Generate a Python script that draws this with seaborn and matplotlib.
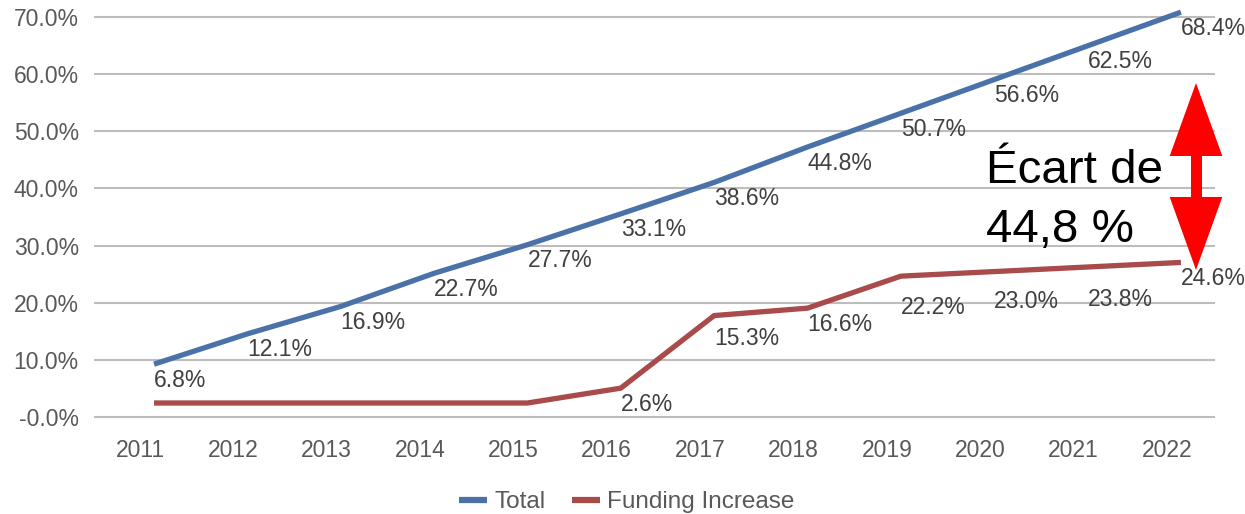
import numpy as np
import pandas as pd
import matplotlib
matplotlib.use("Agg")
import matplotlib.pyplot as plt
from matplotlib.patches import FancyArrowPatch
from matplotlib.lines import Line2D
import seaborn as sns

# ---- data ----
years = ["2011", "2012", "2013", "2014", "2015", "2016",
         "2017", "2018", "2019", "2020", "2021", "2022"]
total = [6.8, 12.1, 16.9, 22.7, 27.7, 33.1, 38.6, 44.8, 50.7, 56.6, 62.5, 68.4]
funding = [0.0, 0.0, 0.0, 0.0, 0.0, 2.6, 15.3, 16.6, 22.2, 23.0, 23.8, 24.6]
funding_labeled = [False, False, False, False, False, True,
                   True, True, True, True, True, True]
series_names = ["Total", "Funding Increase"]
ytick_values = [0, 10, 20, 30, 40, 50, 60, 70]
ytick_labels = ["-0.0%", "10.0%", "20.0%", "30.0%", "40.0%", "50.0%", "60.0%", "70.0%"]
gap_text = "Écart de\n44,8 %"

# ---- style / layout constants ----
W, H = 1245, 514
C_TOTAL = "#4A72A8"
C_FUND = "#A94A4B"
GRID = "#BDBDBD"
TICK_C = "#595959"
LAB_C = "#404040"
Y_SHIFT = 2.45   # gridlines drawn offset from data, as in the reference
X_SHIFT = 0.15
total_lab_dy = [16] * 12
fund_lab_dy = [0, 0, 0, 0, 0, 16, 23, 16, 31, 30, 32, 16]
FS = 16.5

sns.set_theme(style="white")
plt.rcParams["font.family"] = ["Liberation Sans", "DejaVu Sans"]

fig = plt.figure(figsize=(W / 100, H / 100), dpi=100)
ax = fig.add_axes([94 / W, 1 - 425 / H, (1215 - 94) / W, 422 / H])

pos = np.arange(len(years))
df = pd.DataFrame({
    "pos": np.concatenate([pos, pos]),
    "value": total + funding,
    "series": [series_names[0]] * len(years) + [series_names[1]] * len(years),
})
sns.lineplot(data=df, x="pos", y="value", hue="series",
             palette={series_names[0]: C_TOTAL, series_names[1]: C_FUND},
             linewidth=3.8, ax=ax, zorder=3)
for ln in ax.lines:
    ln.set_solid_capstyle("butt")
    ln.set_solid_joinstyle("round")

handles, labels = ax.get_legend_handles_labels()
if ax.get_legend() is not None:
    ax.get_legend().remove()

ax.set_xlim(-0.643, 11.365)
ax.set_ylim(-3.85, 70.0)
ax.set_xticks(pos - X_SHIFT)
ax.set_xticklabels(years)
ax.set_yticks([v - Y_SHIFT for v in ytick_values])
ax.set_yticklabels(ytick_labels)
ax.set_xlabel("")
ax.set_ylabel("")
ax.tick_params(axis="both", length=0, labelsize=FS, colors=TICK_C)
ax.tick_params(axis="y", pad=11)
ax.tick_params(axis="x", pad=10)
ax.grid(axis="y", color=GRID, linewidth=1.5)
ax.grid(axis="x", visible=False)
ax.set_axisbelow(True)
for s in ax.spines.values():
    s.set_visible(False)

# data labels
for i, v in enumerate(total):
    ax.annotate(f"{v:.1f}%", (i, v), xytext=(0, -total_lab_dy[i]),
                textcoords="offset pixels", ha="left", va="center",
                fontsize=FS, color=LAB_C, annotation_clip=False, zorder=4)
for i, v in enumerate(funding):
    if funding_labeled[i]:
        ax.annotate(f"{v:.1f}%", (i, v), xytext=(0, -fund_lab_dy[i]),
                    textcoords="offset pixels", ha="left", va="center",
                    fontsize=FS, color=LAB_C, annotation_clip=False, zorder=4)

# legend
for h in handles:
    h.set_linewidth(4.5)
fig.legend(handles, labels, loc="center", bbox_to_anchor=(627 / W, 1 - 502 / H),
           ncol=2, frameon=False, fontsize=17.5, handlelength=1.15,
           handletextpad=0.3, columnspacing=1.1, labelcolor=TICK_C)

# gap annotation text
fig.text(986 / W, 1 - 183 / H, gap_text.split("\n")[0], fontsize=34.2,
         color="black", ha="left", va="baseline")
fig.text(986 / W, 1 - 242 / H, gap_text.split("\n")[1], fontsize=34.2,
         color="black", ha="left", va="baseline")

# red double-headed arrow
ax_x = 1196 / W
px2pt = 72 / 100
heads = FancyArrowPatch((ax_x, 1 - 270 / H), (ax_x, 1 - 83 / H),
                        transform=fig.transFigure,
                        arrowstyle=f"<|-|>,head_length={73 * px2pt},head_width={26.3 * px2pt}",
                        mutation_scale=1, shrinkA=0, shrinkB=0,
                        color="#FF0000", lw=0, zorder=10)
fig.add_artist(heads)
shaft = Line2D([ax_x, ax_x], [1 - 199 / H, 1 - 155 / H], transform=fig.transFigure,
               color="#FF0000", linewidth=11 * px2pt, solid_capstyle="butt", zorder=10)
fig.add_artist(shaft)

fig.savefig("out.png", dpi=100)
